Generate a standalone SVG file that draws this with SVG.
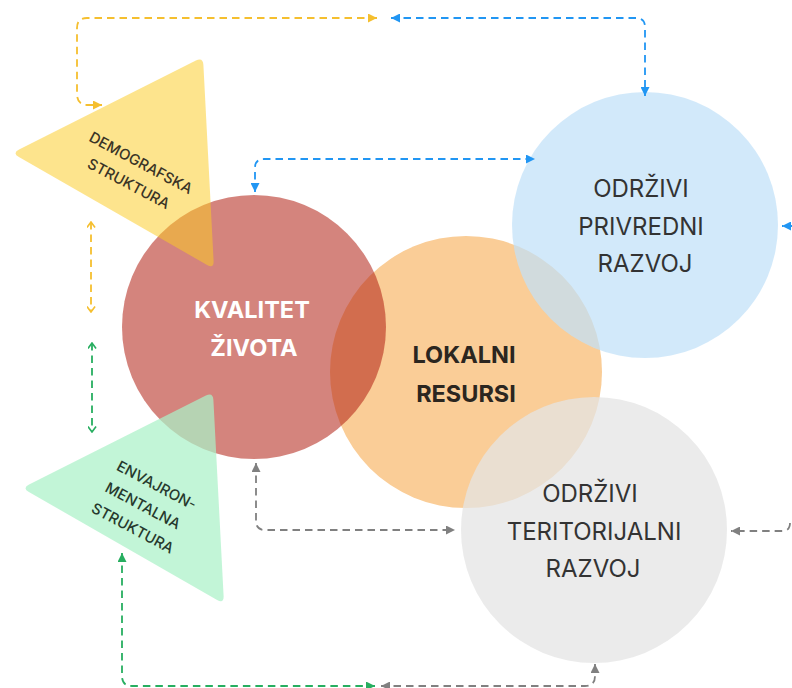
<svg xmlns="http://www.w3.org/2000/svg" xmlns:xlink="http://www.w3.org/1999/xlink" width="792" height="688" viewBox="0 0 792 688">
<defs>
<style>
.lbl{font-family:Inter,"Liberation Sans",Arial,sans-serif;text-anchor:middle}
.big{font-size:24px;fill:#333}
.bold{font-size:23.5px;font-weight:700}
.tri{font-size:14.8px;font-weight:500}
.c{fill:none;stroke-width:1.8;stroke-dasharray:7.5 5}
.y{stroke:#f5bf2f}
.b{stroke:#2196f3}
.g{stroke:#808080}
.gr{stroke:#27ae60}
</style>
<path id="tri" d="M203.4 65 L213.6 261 Q214 269 207.1 265 L18.9 157 Q12 153 19.1 149.4 L195.9 60.6 Q203 57 203.4 65 Z"/>
<marker id="aY" viewBox="0 0 10 10" refX="10" refY="5" markerWidth="9" markerHeight="9" markerUnits="userSpaceOnUse" orient="auto-start-reverse"><path d="M0 0 L10 5 L0 10 Z" fill="#f5bf2f"/></marker>
<marker id="aB" viewBox="0 0 10 10" refX="10" refY="5" markerWidth="9" markerHeight="9" markerUnits="userSpaceOnUse" orient="auto-start-reverse"><path d="M0 0 L10 5 L0 10 Z" fill="#2196f3"/></marker>
<marker id="aG" viewBox="0 0 10 10" refX="10" refY="5" markerWidth="9" markerHeight="9" markerUnits="userSpaceOnUse" orient="auto-start-reverse"><path d="M0 0 L10 5 L0 10 Z" fill="#808080"/></marker>
<marker id="aGr" viewBox="0 0 10 10" refX="10" refY="5" markerWidth="9" markerHeight="9" markerUnits="userSpaceOnUse" orient="auto-start-reverse"><path d="M0 0 L10 5 L0 10 Z" fill="#27ae60"/></marker>
<marker id="oY" viewBox="0 0 10 10" refX="9" refY="5" markerWidth="9" markerHeight="9" markerUnits="userSpaceOnUse" orient="auto-start-reverse"><path d="M3 0.5 L9 5 L3 9.5" fill="none" stroke="#f5bf2f" stroke-width="1.8"/></marker>
<marker id="oGr" viewBox="0 0 10 10" refX="9" refY="5" markerWidth="9" markerHeight="9" markerUnits="userSpaceOnUse" orient="auto-start-reverse"><path d="M3 0.5 L9 5 L3 9.5" fill="none" stroke="#27ae60" stroke-width="1.8"/></marker>
</defs>
<rect width="792" height="688" fill="#ffffff"/>

<g id="lokalni-resursi">
<circle cx="466" cy="372" r="136" fill="#facd97"/>
<text class="lbl bold" x="464" y="363" fill="#2b2620">LOKALNI</text>
<text class="lbl bold" x="466" y="402" fill="#2b2620">RESURSI</text>
</g>

<g id="kvalitet-zivota">
<circle cx="254" cy="327" r="132" fill="#b11f13" fill-opacity="0.55"/>
<text class="lbl bold" x="252" y="318" fill="#ffffff">KVALITET</text>
<text class="lbl bold" x="254" y="356" fill="#ffffff">ŽIVOTA</text>
</g>

<g id="odrzivi-privredni-razvoj">
<circle cx="645" cy="225" r="133" fill="#c0e0f8" fill-opacity="0.72"/>
<text class="lbl big" x="641" y="197">ODRŽIVI</text>
<text class="lbl big" x="641" y="235">PRIVREDNI</text>
<text class="lbl big" x="645" y="272">RAZVOJ</text>
</g>

<g id="odrzivi-teritorijalni-razvoj">
<circle cx="594" cy="530" r="133" fill="#e4e4e4" fill-opacity="0.75"/>
<text class="lbl big" x="590" y="502">ODRŽIVI</text>
<text class="lbl big" x="594" y="540">TERITORIJALNI</text>
<text class="lbl big" x="593" y="577">RAZVOJ</text>
</g>

<g id="demografska-struktura">
<use xlink:href="#tri" href="#tri" fill="#fbcb24" fill-opacity="0.52"/>
<g transform="translate(135 173) rotate(28)">
<text class="lbl tri" x="0.5" y="-6.5" fill="#3a3426">DEMOGRAFSKA</text>
<text class="lbl tri" x="-0.5" y="17.5" fill="#3a3426">STRUKTURA</text>
</g>
</g>

<g id="envajronmentalna-struktura">
<use xlink:href="#tri" href="#tri" transform="translate(10 335)" fill="#abf1c7" fill-opacity="0.72"/>
<g transform="translate(144 506) rotate(28)">
<text class="lbl tri" x="1.5" y="-19" fill="#26392d">ENVAJRON-</text>
<text class="lbl tri" x="-1" y="5.5" fill="#26392d">MENTALNA</text>
<text class="lbl tri" x="0.5" y="30" fill="#26392d">STRUKTURA</text>
</g>
</g>

<g id="connectors">
<path class="c y" d="M377 18 H87 Q77 18 77 28 V94 Q77 105 88 105 H102" marker-start="url(#aY)" marker-end="url(#aY)"/>
<path class="c b" d="M391 18 H636 Q645 18 645 27 V96" marker-start="url(#aB)" marker-end="url(#aB)"/>
<path class="c b" d="M255 192 V168 Q255 159 264 159 H535" marker-start="url(#aB)" marker-end="url(#aB)"/>
<path class="c b" d="M796 226 H782" marker-end="url(#aB)"/>
<path class="c g" d="M256 463 V521 Q256 530 265 530 H455" marker-start="url(#aG)" marker-end="url(#aG)"/>
<path class="c g" d="M790 523 Q790 531 782 531 H731" marker-end="url(#aG)"/>
<path class="c g" d="M381 686 H585 Q595 686 595 676 V664" marker-start="url(#aG)" marker-end="url(#aG)"/>
<path class="c gr" d="M122 553 V676 Q122 686 132 686 H375" marker-start="url(#aGr)" marker-end="url(#aGr)"/>
<path class="c y" d="M91 222 V312" marker-start="url(#oY)" marker-end="url(#oY)"/>
<path class="c gr" d="M92 343 V432" marker-start="url(#oGr)" marker-end="url(#oGr)"/>
</g>
</svg>
